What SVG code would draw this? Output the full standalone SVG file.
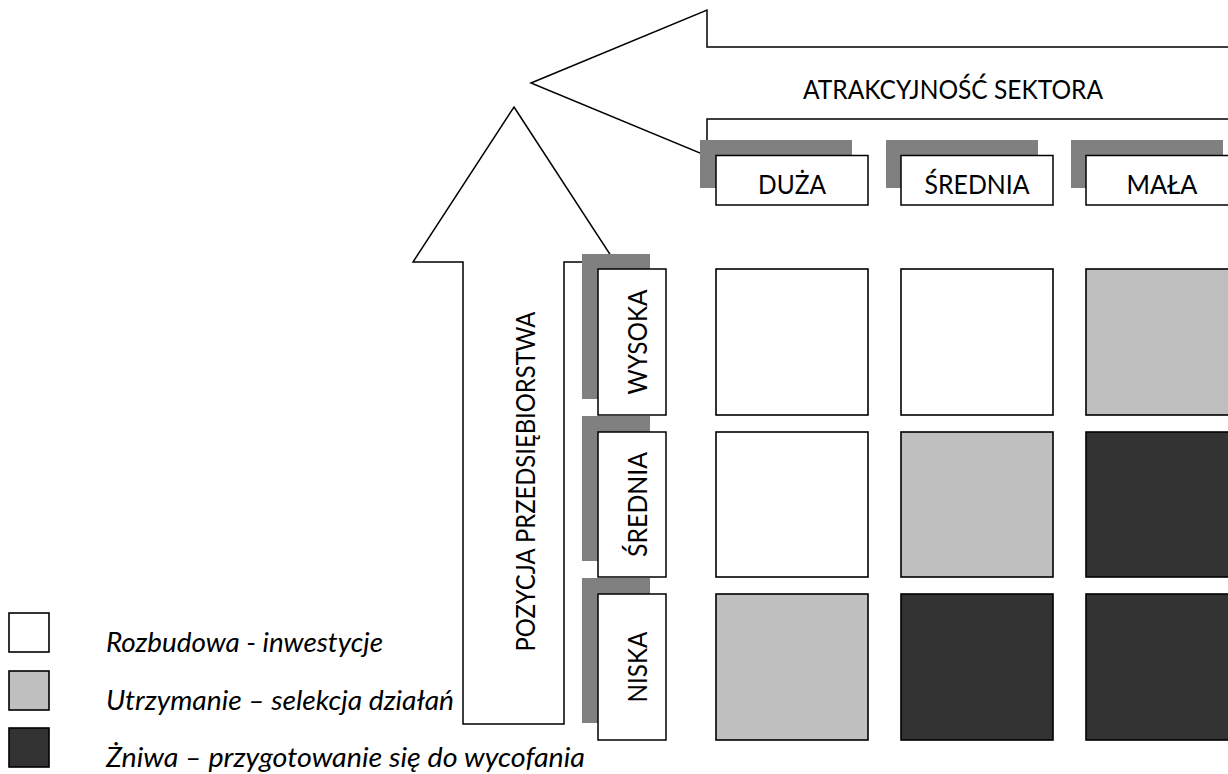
<svg xmlns="http://www.w3.org/2000/svg" width="1228" height="774" viewBox="0 0 1228 774">
  <style>
    .ln { fill: #ffffff; stroke: #000000; stroke-width: 1.5; stroke-linejoin: miter; }
    .shadow { fill: #808080; stroke: none; }
    .box { fill: #ffffff; stroke: #000000; stroke-width: 1.5; }
    .cell { stroke: #000000; stroke-width: 1.6; }
    .c-w { fill: #ffffff; }
    .c-g { fill: #bfbfbf; }
    .c-d { fill: #333333; }
    .lbl { font-family: Lato, "Open Sans", "Liberation Sans", sans-serif; font-size: 26.5px; fill: #000000; }
    .mid { text-anchor: middle; }
    .leg { font-family: Lato, "Open Sans", "Liberation Sans", sans-serif; font-size: 26.5px; font-style: italic; fill: #000000; }
  </style>

  <rect x="0" y="0" width="1228" height="774" fill="#ffffff"/>

  <!-- axis arrows -->
  <g id="connectors">
    <polygon class="ln" points="531,83 707,10 707,47 1240,47 1240,119 707,119 707,156"/>
    <polygon class="ln" points="514,107 615,262 564,262 564,724 463,724 463,262 413,262"/>
  </g>

  <g id="axis-x-title">
    <text class="lbl mid" x="953" y="99" textLength="300" lengthAdjust="spacingAndGlyphs">ATRAKCYJNOŚĆ SEKTORA</text>
  </g>
  <g id="axis-y-title">
    <text class="lbl mid" transform="translate(535,481.5) rotate(-90)" x="0" y="0" textLength="340" lengthAdjust="spacingAndGlyphs">POZYCJA PRZEDSIĘBIORSTWA</text>
  </g>

  <!-- column headers -->
  <g id="col-duza">
    <rect class="shadow" x="700" y="140" width="152" height="48"/>
    <rect class="box" x="716" y="155.5" width="152" height="49.5"/>
    <text class="lbl mid" x="792" y="194" textLength="68" lengthAdjust="spacingAndGlyphs">DUŻA</text>
  </g>
  <g id="col-srednia">
    <rect class="shadow" x="886" y="140" width="152" height="48"/>
    <rect class="box" x="901" y="155.5" width="152" height="49.5"/>
    <text class="lbl mid" x="977" y="194" textLength="105" lengthAdjust="spacingAndGlyphs">ŚREDNIA</text>
  </g>
  <g id="col-mala">
    <rect class="shadow" x="1071" y="140" width="152" height="48"/>
    <rect class="box" x="1086" y="155.5" width="152" height="49.5"/>
    <text class="lbl mid" x="1162" y="194" textLength="71" lengthAdjust="spacingAndGlyphs">MAŁA</text>
  </g>

  <!-- row headers -->
  <g id="row-wysoka">
    <rect class="shadow" x="582" y="254" width="68" height="145"/>
    <rect class="box" x="598" y="269" width="68" height="146"/>
    <text class="lbl mid" transform="translate(647,342) rotate(-90)" x="0" y="0" textLength="105" lengthAdjust="spacingAndGlyphs">WYSOKA</text>
  </g>
  <g id="row-srednia">
    <rect class="shadow" x="582" y="416" width="68" height="145"/>
    <rect class="box" x="598" y="432" width="68" height="145"/>
    <text class="lbl mid" transform="translate(647,504.5) rotate(-90)" x="0" y="0" textLength="105" lengthAdjust="spacingAndGlyphs">ŚREDNIA</text>
  </g>
  <g id="row-niska">
    <rect class="shadow" x="582" y="578" width="68" height="145"/>
    <rect class="box" x="598" y="594" width="68" height="146"/>
    <text class="lbl mid" transform="translate(647,667) rotate(-90)" x="0" y="0" textLength="71" lengthAdjust="spacingAndGlyphs">NISKA</text>
  </g>

  <!-- matrix cells -->
  <g id="cell-1-1"><rect class="cell c-w" x="716" y="269" width="152" height="146"/></g>
  <g id="cell-1-2"><rect class="cell c-w" x="901" y="269" width="152" height="146"/></g>
  <g id="cell-1-3"><rect class="cell c-g" x="1086" y="269" width="152" height="146"/></g>
  <g id="cell-2-1"><rect class="cell c-w" x="716" y="432" width="152" height="145"/></g>
  <g id="cell-2-2"><rect class="cell c-g" x="901" y="432" width="152" height="145"/></g>
  <g id="cell-2-3"><rect class="cell c-d" x="1086" y="432" width="152" height="145"/></g>
  <g id="cell-3-1"><rect class="cell c-g" x="716" y="594" width="152" height="146"/></g>
  <g id="cell-3-2"><rect class="cell c-d" x="901" y="594" width="152" height="146"/></g>
  <g id="cell-3-3"><rect class="cell c-d" x="1086" y="594" width="152" height="146"/></g>

  <!-- legend -->
  <g id="legend-rozbudowa">
    <rect class="cell c-w" x="9" y="613" width="40" height="39"/>
    <text class="leg" x="106" y="652" textLength="277" lengthAdjust="spacingAndGlyphs">Rozbudowa - inwestycje</text>
  </g>
  <g id="legend-utrzymanie">
    <rect class="cell c-g" x="9" y="671" width="40" height="39"/>
    <text class="leg" x="106" y="710" textLength="348" lengthAdjust="spacingAndGlyphs">Utrzymanie – selekcja działań</text>
  </g>
  <g id="legend-zniwa">
    <rect class="cell c-d" x="9" y="728" width="40" height="39"/>
    <text class="leg" x="106" y="767" textLength="479" lengthAdjust="spacingAndGlyphs">Żniwa – przygotowanie się do wycofania</text>
  </g>
</svg>
